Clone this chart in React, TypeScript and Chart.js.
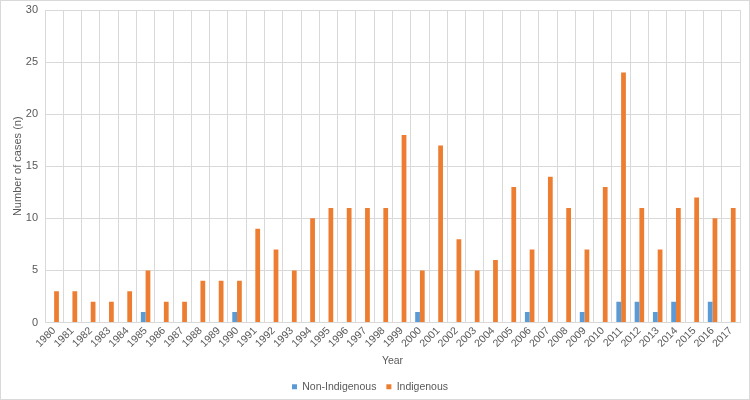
import React, { useEffect, useRef } from "react";
import { Chart, registerables } from "chart.js";

Chart.register(...registerables);

const years: string[] = [
  "1980","1981","1982","1983","1984","1985","1986","1987","1988","1989",
  "1990","1991","1992","1993","1994","1995","1996","1997","1998","1999",
  "2000","2001","2002","2003","2004","2005","2006","2007","2008","2009",
  "2010","2011","2012","2013","2014","2015","2016","2017",
];

const nonIndigenous: number[] = [
  0,0,0,0,0,1,0,0,0,0,
  1,0,0,0,0,0,0,0,0,0,
  1,0,0,0,0,0,1,0,0,1,
  0,2,2,1,2,0,2,0,
];

const indigenous: number[] = [
  3,3,2,2,3,5,2,2,4,4,
  4,9,7,5,10,11,11,11,11,18,
  5,17,8,5,6,13,7,14,11,7,
  13,24,11,7,11,12,10,11,
];

const yTicks: number[] = [0, 5, 10, 15, 20, 25, 30];

const TEXT = "#595959";
const GRID = "#d9d9d9";
const FONT = "'Liberation Sans', Arial, sans-serif";

const borderPlugin = {
  id: "chartBorder",
  afterDraw(chart: any) {
    const { ctx, width, height } = chart;
    ctx.save();
    ctx.strokeStyle = "#d9d9d9";
    ctx.lineWidth = 1;
    ctx.strokeRect(0.5, 0.5, width - 1, height - 1);
    ctx.restore();
  },
};

export default function App() {
  const ref = useRef<HTMLCanvasElement | null>(null);

  useEffect(() => {
    document.body.style.margin = "0";
    if (!ref.current) return;
    const chart = new Chart(ref.current, {
      type: "bar",
      data: {
        labels: years,
        datasets: [
          {
            label: "Non-Indigenous",
            data: nonIndigenous,
            backgroundColor: "#5b9bd5",
            categoryPercentage: 0.52,
            barPercentage: 1.0,
          },
          {
            label: "Indigenous",
            data: indigenous,
            backgroundColor: "#ed7d31",
            categoryPercentage: 0.52,
            barPercentage: 1.0,
          },
        ],
      },
      options: {
        animation: false,
        responsive: false,
        maintainAspectRatio: false,
        layout: { padding: { top: 10, right: 10, left: 0, bottom: -2 } },
        plugins: {
          legend: {
            position: "bottom",
            labels: {
              usePointStyle: true,
              pointStyle: "rect",
              boxWidth: 5,
              boxHeight: 5,
              padding: 10,
              color: TEXT,
              font: { family: FONT, size: 10.5 },
            },
          },
          tooltip: { enabled: false },
        },
        scales: {
          x: {
            afterFit(scale: any) {
              scale.height = 49;
            },
            grid: { color: GRID, drawTicks: false, offset: true },
            border: { color: GRID },
            ticks: {
              color: TEXT,
              font: { family: FONT, size: 10.5 },
              minRotation: 45,
              maxRotation: 45,
              autoSkip: false,
              padding: 2,
            },
            title: {
              display: true,
              text: "Year",
              color: TEXT,
              font: { family: FONT, size: 10.5 },
              padding: { top: 0, bottom: 4 },
            },
          },
          y: {
            min: 0,
            max: 30,
            afterBuildTicks(scale: any) {
              scale.ticks = yTicks.map((v) => ({ value: v }));
            },
            afterFit(scale: any) {
              scale.width = 45;
              scale.paddingTop = 0;
            },
            grid: { color: GRID, drawTicks: false },
            border: { display: false },
            ticks: {
              color: TEXT,
              font: { family: FONT, size: 11 },
              padding: 7,
            },
            title: {
              display: true,
              text: "Number of cases (n)",
              color: TEXT,
              font: { family: FONT, size: 11 },
              padding: { top: 11, bottom: 0 },
            },
          },
        },
      },
      plugins: [borderPlugin],
    });
    return () => chart.destroy();
  }, []);

  return (
    <div style={{ width: 750, height: 400 }}>
      <canvas ref={ref} width={750} height={400} style={{ display: "block" }} />
    </div>
  );
}
